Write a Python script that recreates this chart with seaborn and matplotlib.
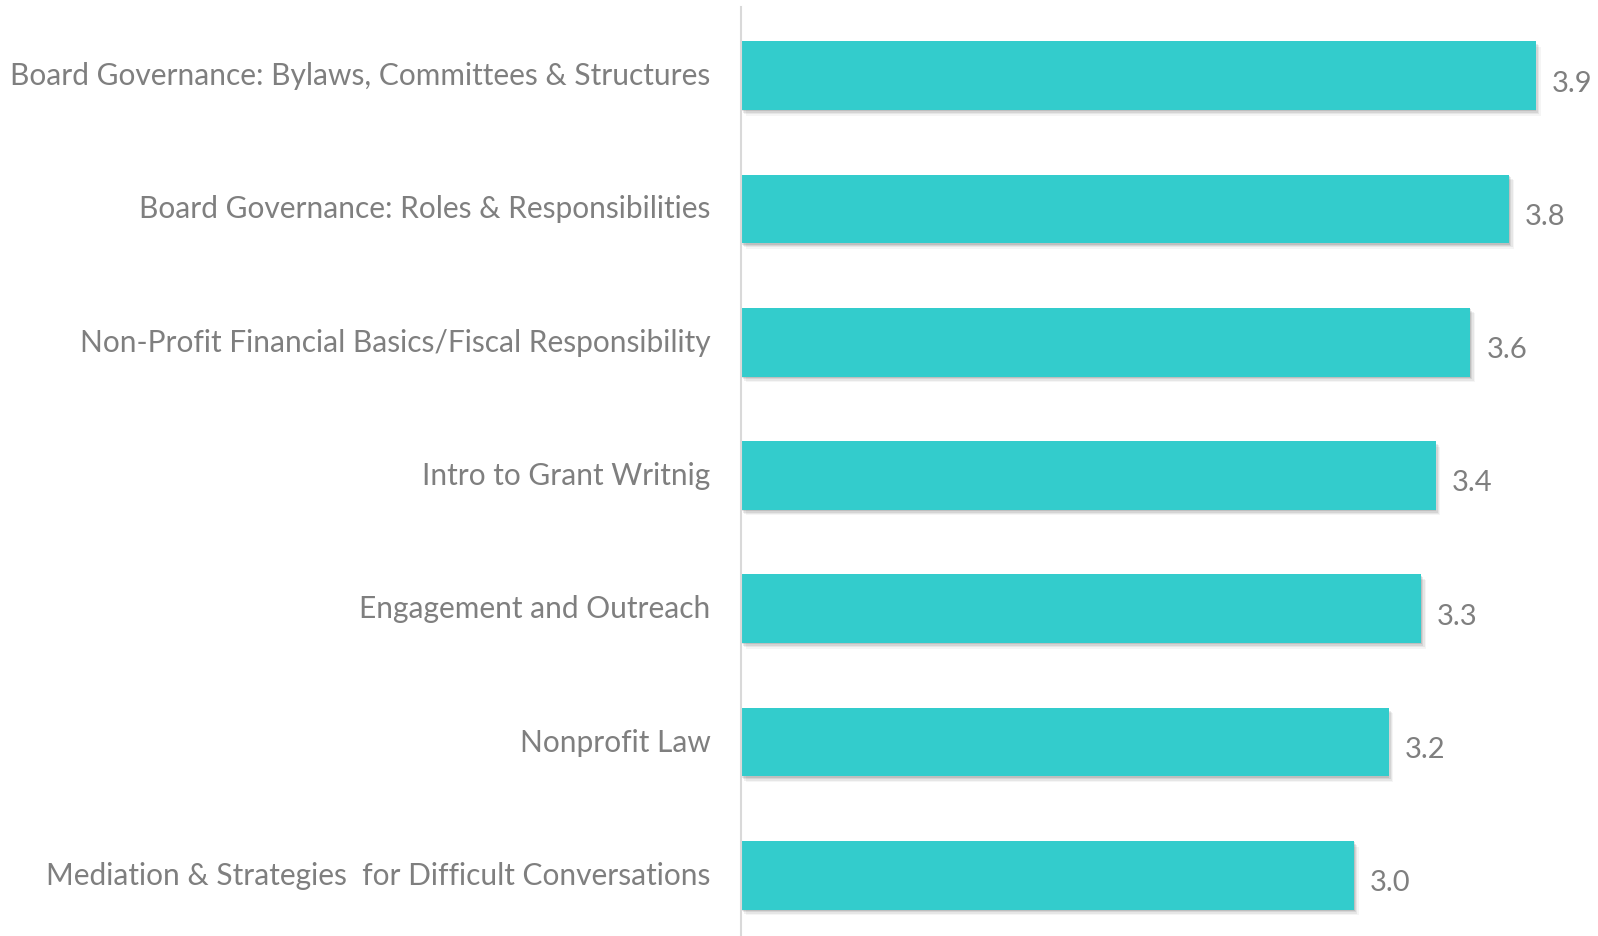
import matplotlib
matplotlib.use("Agg")
import matplotlib.pyplot as plt
import matplotlib.patheffects as pe
import matplotlib.transforms as mtransforms
import seaborn as sns
import pandas as pd

categories = [
    "Board Governance: Bylaws, Committees & Structures",
    "Board Governance: Roles & Responsibilities",
    "Non-Profit Financial Basics/Fiscal Responsibility",
    "Intro to Grant Writnig",
    "Engagement and Outreach",
    "Nonprofit Law",
    "Mediation & Strategies  for Difficult Conversations",
]
values = [3.89, 3.76, 3.57, 3.40, 3.33, 3.17, 3.00]
value_labels = ["3.9", "3.8", "3.6", "3.4", "3.3", "3.2", "3.0"]

df = pd.DataFrame({"topic": categories, "score": values})

sns.set_theme(style="white")
plt.rcParams["font.family"] = ["Lato", "DejaVu Sans"]

TEXT = "#7f7f7f"
BAR = "#33CCCC"

fig = plt.figure(figsize=(15.98, 9.37), dpi=100)
ax = fig.add_axes([741 / 1598, 0.0, 1 - 741 / 1598, 1 - 8 / 937])

sns.barplot(data=df, x="score", y="topic", orient="h", color=BAR,
            width=0.515, saturation=1, ax=ax)

shadow = []
for off, a in [((0.5, -1.0), 0.10), ((1.5, -2.0), 0.08), ((2.5, -3.0), 0.06), ((3.5, -4.0), 0.04)]:
    shadow.append(pe.SimplePatchShadow(offset=off, shadow_rgbFace="#000000", alpha=a))
shadow.append(pe.Normal())
for p in ax.patches:
    p.set_edgecolor("none")
    p.set_path_effects(shadow)

ax.set_xlim(0, 4.195)
ax.set_ylim(6.455, -0.515)
ax.set_xlabel("")
ax.set_ylabel("")
ax.set_xticks([])
for s in ["top", "right", "bottom"]:
    ax.spines[s].set_visible(False)
ax.spines["left"].set_color("#d9d9d9")
ax.spines["left"].set_linewidth(1.5)
ax.tick_params(axis="y", length=0, pad=22, labelsize=21.5, labelcolor=TEXT)

shift = mtransforms.ScaledTranslation(0, 3 / 100, fig.dpi_scale_trans)
for lab in ax.get_yticklabels():
    lab.set_transform(lab.get_transform() + shift)

anns = ax.bar_label(ax.containers[0], labels=value_labels, padding=11.5,
                    fontsize=21, color=TEXT)
for t in anns:
    t.xyann = (11.5, -5)

fig.savefig("out.png", dpi=100)
